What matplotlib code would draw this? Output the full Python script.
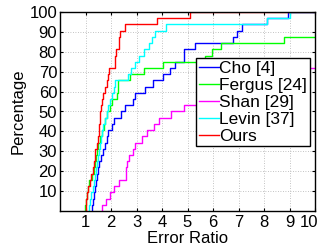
import numpy as np
import matplotlib
matplotlib.use("Agg")
import matplotlib.pyplot as plt
import matplotlib.transforms as mtransforms

plt.rcParams['font.family'] = ['Liberation Sans', 'DejaVu Sans']

# Sorted error ratios (32 test images per method); values > 10 fall off the chart
labels = ["Cho [4]", "Fergus [24]", "Shan [29]", "Levin [37]", "Ours"]
colors = ["#0000ff", "#00ff00", "#ff00ff", "#00ffff", "#ff0000"]

cho = [1.25, 1.30, 1.35, 1.38, 1.42, 1.45, 1.50, 1.52, 1.60, 1.68, 1.78, 1.86,
       1.90, 2.04, 2.10, 2.40, 2.55, 2.87, 2.94, 3.35, 3.65, 4.05, 4.30, 4.50,
       4.85, 4.88, 5.28, 6.78, 6.95, 7.13, 8.10, 8.95]
fergus = [0.98, 1.00, 1.05, 1.10, 1.15, 1.25, 1.32, 1.38, 1.42, 1.45, 1.50, 1.58,
          1.65, 1.72, 1.78, 1.84, 1.97, 2.04, 2.23, 2.26, 2.29, 2.75, 3.30, 4.04,
          5.70, 5.95, 6.30, 8.80, 12.0, 14.0, 16.0, 18.0]
shan = [1.65, 1.80, 1.97, 2.10, 2.30, 2.59, 2.60, 2.62, 2.70, 2.85, 2.94, 3.20,
        3.40, 3.70, 3.88, 4.37, 4.87, 5.80, 6.60, 7.40, 8.30, 9.20, 9.70, 11.0,
        12.0, 13.0, 14.0, 15.0, 16.0, 17.0, 18.0, 19.0]
levin = [1.15, 1.19, 1.23, 1.28, 1.33, 1.38, 1.41, 1.45, 1.48, 1.52, 1.55, 1.60,
         1.65, 1.70, 1.75, 1.84, 1.88, 1.95, 2.05, 2.10, 2.15, 2.67, 2.80, 2.94,
         3.10, 3.30, 3.50, 3.60, 3.72, 4.15, 8.10, 9.00]
ours = [1.00, 1.02, 1.05, 1.10, 1.18, 1.23, 1.30, 1.33, 1.36, 1.39, 1.45, 1.50,
        1.52, 1.54, 1.57, 1.58, 1.62, 1.65, 1.70, 1.77, 1.85, 1.90, 1.92, 2.14,
        2.16, 2.19, 2.30, 2.33, 2.36, 2.55, 3.80, 5.10]
series = [cho, fergus, shan, levin, ours]

xticks = [1, 2, 3, 4, 5, 6, 7, 8, 9, 10]
yticks = [10, 20, 30, 40, 50, 60, 70, 80, 90, 100]

fig = plt.figure(figsize=(3.26, 2.47), dpi=100)
ax = fig.add_axes([60/326, 36/247, 255/326, 199/247])

for vals, lab, col in zip(series, labels, colors):
    v = np.array(vals)
    n = len(v)
    pct = np.arange(1, n + 1) / n * 100
    xs = np.r_[v[0], v, 30]
    ys = np.r_[0, pct, pct[-1]]
    ax.step(xs, ys, where='post', color=col, lw=1.0, label=lab)

ax.set_xlim(0, 10)
ax.set_ylim(0, 100)
ax.set_xticks(xticks)
ax.set_yticks(yticks)
ax.set_xticklabels([str(t) for t in xticks])
ax.set_yticklabels([str(t) for t in yticks])
ax.tick_params(direction='in', length=2, width=0.8, top=True, right=True,
               labelsize=12, colors='black')
ax.tick_params(axis='y', pad=2)
ax.tick_params(axis='x', pad=3.0)
ax.grid(True, linestyle=(0, (1, 2)), color='#b0b0b0', lw=0.6)
for s in ax.spines.values():
    s.set_linewidth(1.0)
    s.set_color('black')

# shift the last x label left as in the reference
lab10 = ax.get_xticklabels()[-1]
lab10.set_transform(lab10.get_transform() + mtransforms.ScaledTranslation(-6/100, 0, fig.dpi_scale_trans))

ax.set_xlabel("Error Ratio", fontsize=12, labelpad=0.5)
ax.set_ylabel("Percentage", fontsize=12, labelpad=3)

leg = ax.legend(loc='upper right', bbox_to_anchor=(0.98, 0.767), borderaxespad=0,
                fontsize=12.5, frameon=True, fancybox=False, framealpha=1,
                edgecolor='black', handlelength=1.15, handletextpad=0.05,
                labelspacing=0.1, borderpad=0.15)
leg.get_frame().set_linewidth(1.0)

fig.savefig("out.png", dpi=100)
